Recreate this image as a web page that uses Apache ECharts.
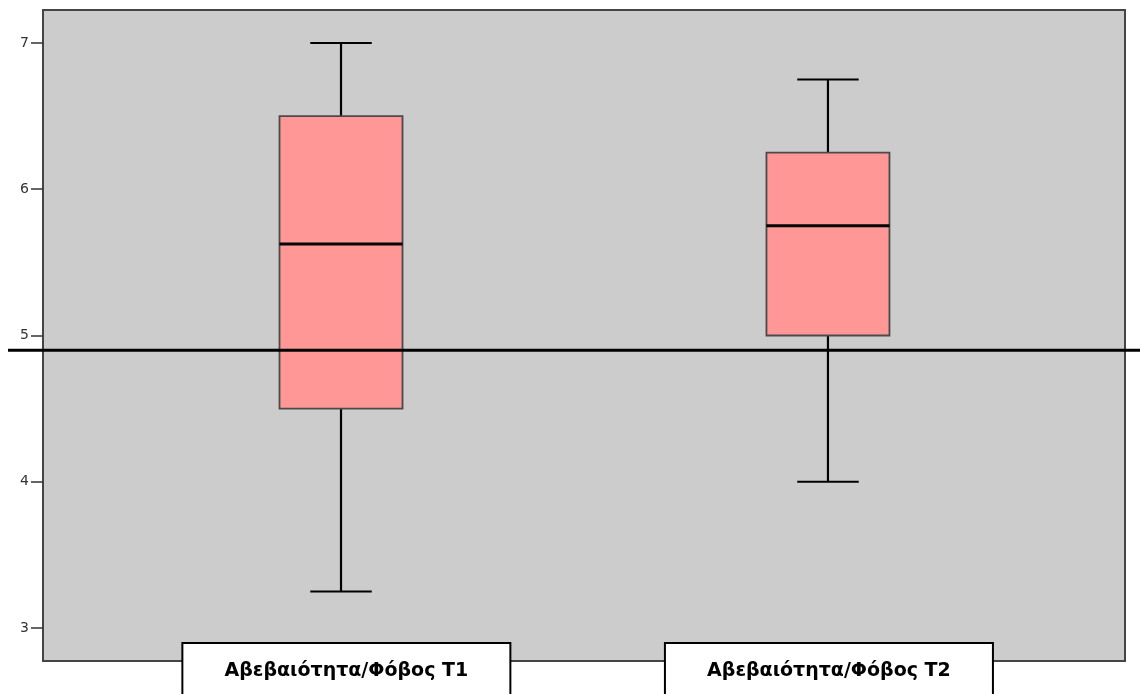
<!DOCTYPE html>
<html>
<head>
<meta charset="utf-8">
<style>html,body{margin:0;padding:0;background:#fff;overflow:hidden;}#c{width:1140px;height:694px;}</style>
<script src="https://cdn.jsdelivr.net/npm/echarts@6/dist/echarts.min.js"></script>
</head>
<body>
<div id="c"></div>
<script>
const categories = ['Αβεβαιότητα/Φόβος T1', 'Αβεβαιότητα/Φόβος T2'];
const positions = [1, 2];
const mins = [3.25, 4.0];
const q1s = [4.5, 5.0];
const medians = [5.625, 5.75];
const q3s = [6.5, 6.25];
const maxs = [7.0, 6.75];
const refValue = 4.9;
const yTicks = [3, 4, 5, 6, 7];
const labelPositions = [1.011, 2.002];

const data = positions.map((p, i) => [p, mins[i], q1s[i], medians[i], q3s[i], maxs[i]]);
const BOX_W = 0.2526;

const chart = echarts.init(document.getElementById('c'));
chart.setOption({
  animation: false,
  grid: {
    left: 43, right: 15, top: 10, bottom: 33,
    outerBoundsMode: 'none', containLabel: false,
    show: true, backgroundColor: '#cccccc', borderColor: '#444', borderWidth: 2
  },
  xAxis: {
    type: 'value', min: 0.388, max: 2.61,
    axisLine: { show: false }, axisTick: { show: false }, splitLine: { show: false },
    axisLabel: {
      customValues: labelPositions,
      margin: -17,
      formatter: v => {
        let idx = 0, best = Infinity;
        labelPositions.forEach((p, i) => { if (Math.abs(p - v) < best) { best = Math.abs(p - v); idx = i; } });
        return '{b|' + categories[idx] + '}';
      },
      rich: {
        b: {
          fontFamily: 'DejaVu Sans', fontWeight: 'bold', fontSize: 19, color: '#000',
          backgroundColor: '#fff', borderColor: '#000', borderWidth: 2,
          width: 326, height: 54, lineHeight: 50, align: 'center', verticalAlign: 'top'
        }
      }
    }
  },
  yAxis: {
    type: 'value', min: 2.7744, max: 7.2256,
    axisLine: { show: true, lineStyle: { color: '#444', width: 2 } },
    splitLine: { show: false },
    axisTick: { show: true, customValues: yTicks, length: 12, lineStyle: { color: '#333', width: 1.5 } },
    axisLabel: { customValues: yTicks, margin: 14, fontSize: 14, fontFamily: 'DejaVu Sans', color: '#333' }
  },
  series: [{
    type: 'custom',
    data: data,
    renderItem: function (params, api) {
      const x = api.value(0);
      const c = v => api.coord([x, v]);
      const w = api.size([BOX_W, 0])[0];
      const cx = c(0)[0];
      const pMin = c(api.value(1))[1], pQ1 = c(api.value(2))[1], pMed = c(api.value(3))[1],
            pQ3 = c(api.value(4))[1], pMax = c(api.value(5))[1];
      const cap = w / 4;
      return {
        type: 'group',
        children: [
          { type: 'line', shape: { x1: cx, y1: pQ3, x2: cx, y2: pMax }, style: { stroke: '#000', lineWidth: 2.2 } },
          { type: 'line', shape: { x1: cx, y1: pQ1, x2: cx, y2: pMin }, style: { stroke: '#000', lineWidth: 2.2 } },
          { type: 'line', shape: { x1: cx - cap, y1: pMax, x2: cx + cap, y2: pMax }, style: { stroke: '#000', lineWidth: 2 } },
          { type: 'line', shape: { x1: cx - cap, y1: pMin, x2: cx + cap, y2: pMin }, style: { stroke: '#000', lineWidth: 2 } },
          { type: 'rect', shape: { x: cx - w / 2, y: pQ3, width: w, height: pQ1 - pQ3 }, style: { fill: '#ff9797', stroke: '#4a4a4a', lineWidth: 1.8 } },
          { type: 'line', shape: { x1: cx - w / 2, y1: pMed, x2: cx + w / 2, y2: pMed }, style: { stroke: '#000', lineWidth: 3 } }
        ]
      };
    }
  }]
});
const ry = chart.convertToPixel({ yAxisIndex: 0 }, refValue);
chart.setOption({
  graphic: [{ type: 'line', z: 100, shape: { x1: 8, y1: ry, x2: 1140, y2: ry }, style: { stroke: '#000', lineWidth: 3 } }]
});
</script>
</body>
</html>
